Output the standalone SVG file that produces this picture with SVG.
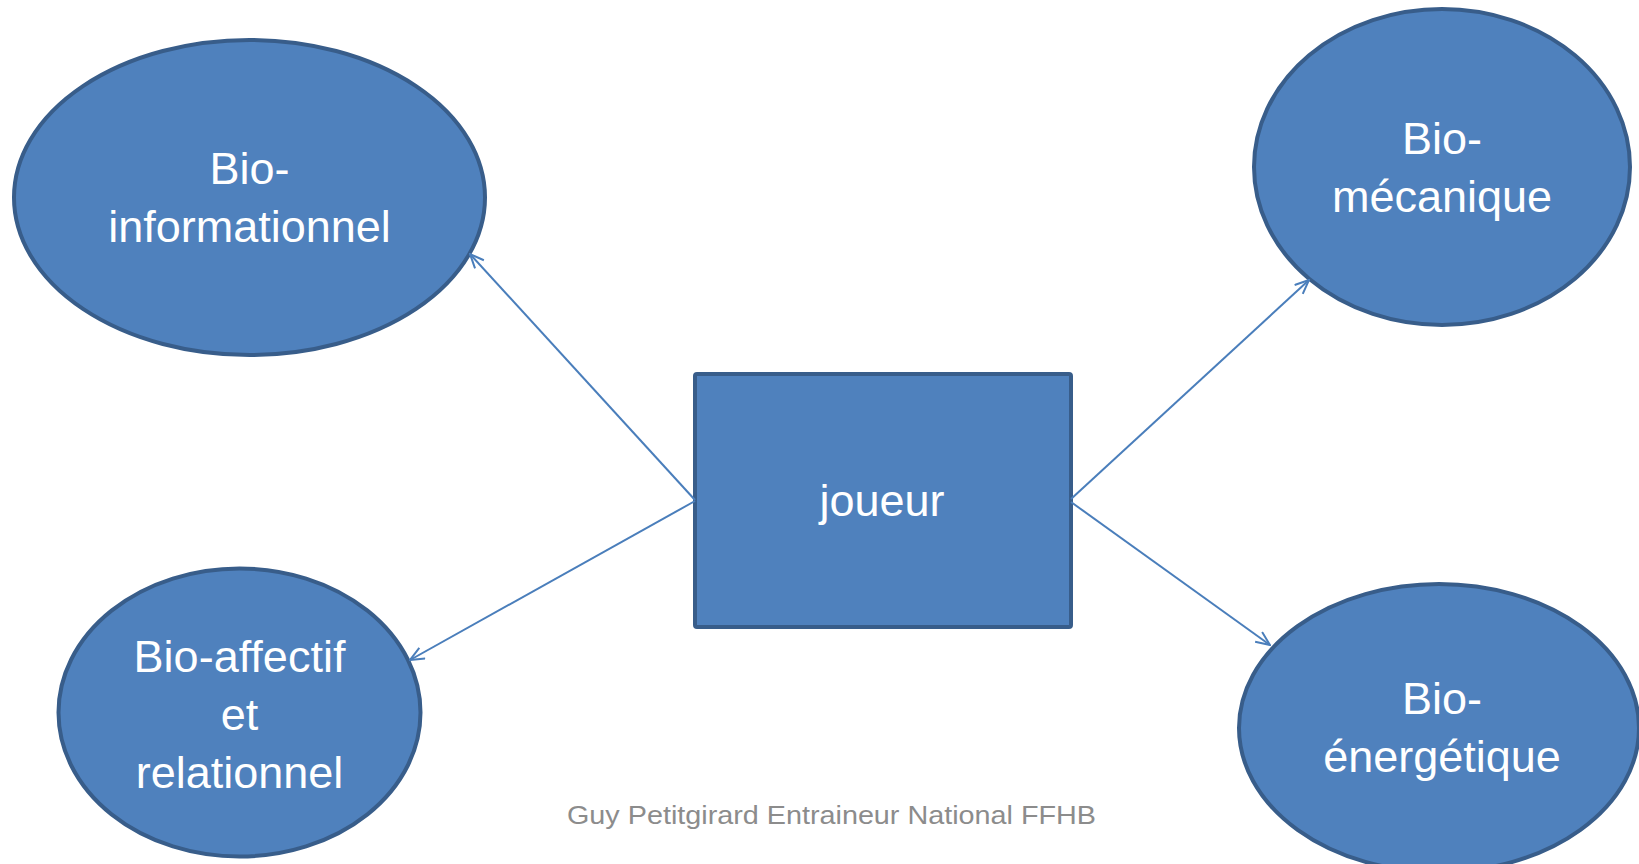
<svg xmlns="http://www.w3.org/2000/svg" width="1639" height="864" viewBox="0 0 1639 864">
  <style>
    .shape { fill: #4f81bd; stroke: #385d8a; stroke-width: 4; }
    .label { font-family: "Liberation Sans", Arial, sans-serif; font-size: 45px; fill: #ffffff; text-anchor: middle; }
    .conn { stroke: #4a7ebb; stroke-width: 2; fill: none; }
    .footer { font-family: "Liberation Sans", Arial, sans-serif; font-size: 25px; fill: #8c8c8c; text-anchor: middle; }
  </style>
  <defs>
    <marker id="arrow" viewBox="0 0 16 14" refX="15" refY="7" markerWidth="16" markerHeight="14" markerUnits="userSpaceOnUse" orient="auto">
      <path d="M1,1 L15,7 L1,13" fill="none" stroke="#4a7ebb" stroke-width="2"/>
    </marker>
  </defs>
  <rect width="1639" height="864" fill="#ffffff"/>

  <g id="node-bio-informationnel">
    <ellipse class="shape" cx="249.5" cy="197.5" rx="235.5" ry="157.5"/>
    <text class="label" x="249.5" y="184">Bio-</text>
    <text class="label" x="249.5" y="241.7">informationnel</text>
  </g>

  <g id="node-bio-mecanique">
    <ellipse class="shape" cx="1442" cy="167" rx="188" ry="158"/>
    <text class="label" x="1442" y="154">Bio-</text>
    <text class="label" x="1442" y="211.7">mécanique</text>
  </g>

  <g id="node-joueur">
    <rect class="shape" x="695" y="374" width="376" height="253" rx="2"/>
    <text class="label" x="882" y="516">joueur</text>
  </g>

  <g id="node-bio-affectif">
    <ellipse class="shape" cx="239.5" cy="712.5" rx="181" ry="144"/>
    <text class="label" x="239.5" y="671.7">Bio-affectif</text>
    <text class="label" x="239.5" y="730">et</text>
    <text class="label" x="239.5" y="788.3">relationnel</text>
  </g>

  <g id="node-bio-energetique">
    <ellipse class="shape" cx="1439" cy="728" rx="200" ry="144"/>
    <text class="label" x="1442" y="714">Bio-</text>
    <text class="label" x="1442" y="771.7">énergétique</text>
  </g>

  <g id="connectors">
    <line class="conn" x1="695" y1="500" x2="470" y2="254" marker-end="url(#arrow)"/>
    <line class="conn" x1="695" y1="501" x2="410" y2="660" marker-end="url(#arrow)"/>
    <line class="conn" x1="1071" y1="499" x2="1309" y2="280" marker-end="url(#arrow)"/>
    <line class="conn" x1="1071" y1="502" x2="1270" y2="645" marker-end="url(#arrow)"/>
  </g>

  <text class="footer" x="831.5" y="824" textLength="529" lengthAdjust="spacingAndGlyphs">Guy Petitgirard Entraineur National FFHB</text>
</svg>
